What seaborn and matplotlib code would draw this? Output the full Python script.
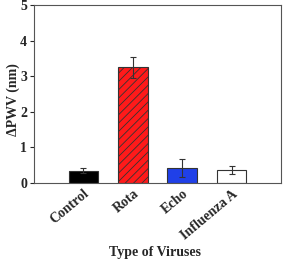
import matplotlib
matplotlib.use("Agg")
import matplotlib.pyplot as plt
import seaborn as sns
import pandas as pd

viruses = ["Control", "Rota", "Echo", "Influenza A"]
dpwv = [0.35, 3.25, 0.42, 0.37]
errors = [0.07, 0.30, 0.25, 0.12]
colors = ["#000000", "#ff1a1a", "#2040e8", "#ffffff"]
hatches = ["", "////", "", ""]

sns.set_style("white")
plt.rcParams["font.family"] = ["Liberation Serif", "DejaVu Serif"]
plt.rcParams["font.weight"] = "bold"
plt.rcParams["hatch.linewidth"] = 0.6
plt.rcParams["hatch.color"] = "black"

df = pd.DataFrame({"virus": viruses, "dpwv": dpwv})

fig = plt.figure(figsize=(2.83, 2.63), dpi=100)
ax = fig.add_axes([0.120, 0.304, 0.873, 0.677])

sns.barplot(data=df, x="virus", y="dpwv", hue="virus", palette=colors,
            saturation=1, width=0.6, edgecolor="#333333", linewidth=0.8,
            legend=False, errorbar=None, ax=ax)
for bar, h in zip(ax.patches, hatches):
    bar.set_hatch(h)

ax.errorbar(range(len(viruses)), dpwv, yerr=errors, fmt="none",
            ecolor="#333333", elinewidth=0.8, capsize=2.5, capthick=0.8)

ax.set_xlim(-1.0, 4.0)
ax.set_ylim(0, 5)
ax.set_yticks([0, 1, 2, 3, 4, 5])
ax.tick_params(axis="y", direction="out", length=3, width=0.8, labelsize=10, pad=2, left=True)
ax.tick_params(axis="x", length=0, labelsize=10, pad=3)
plt.setp(ax.get_xticklabels(), rotation=40, ha="right", rotation_mode="anchor", fontweight="bold")
plt.setp(ax.get_yticklabels(), fontweight="bold")
for s in ax.spines.values():
    s.set_color("#555555")
    s.set_linewidth(0.8)

ax.set_xlabel("Type of Viruses", fontsize=10, fontweight="bold", va="center")
ax.xaxis.set_label_coords(0.49, -0.39)
ax.set_ylabel("ΔPWV (nm)", fontsize=10, fontweight="bold", va="center")
ax.yaxis.set_label_coords(-0.085, 0.47)

fig.savefig("out.png", dpi=100)
